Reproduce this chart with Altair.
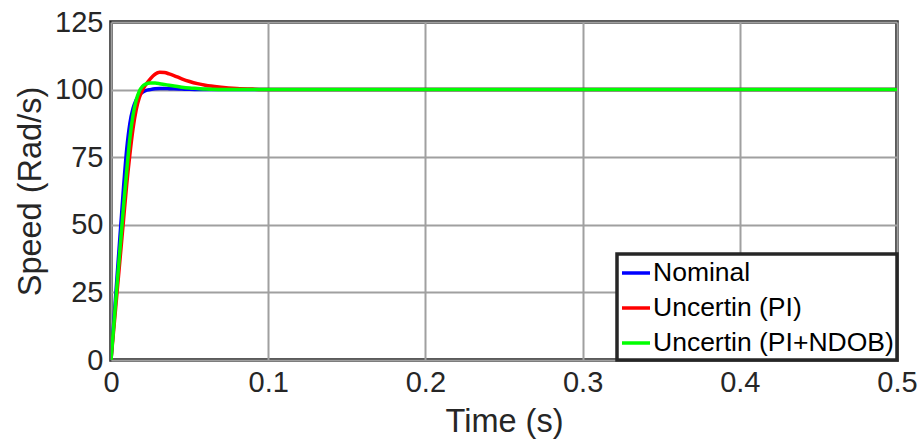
import altair as alt
import pandas as pd

# Time (s)
time = [0.0, 0.002, 0.004, 0.006, 0.008, 0.010, 0.012, 0.014, 0.016, 0.018,
        0.020, 0.022, 0.025, 0.028, 0.031, 0.034, 0.037, 0.040, 0.045, 0.050,
        0.055, 0.060, 0.070, 0.080, 0.090, 0.100, 0.200, 0.300, 0.400, 0.500]

# Speed (Rad/s)
nominal = [0, 16, 32, 48, 64, 78, 87.5, 93, 96.2, 98.0,
           99.0, 99.6, 100.0, 100.3, 100.4, 100.4, 100.35, 100.3, 100.2, 100.1,
           100.05, 100.0, 100.0, 100.0, 100.0, 100.0, 100.0, 100.0, 100.0, 100.0]

pi = [0, 13, 26, 39, 52, 65, 76, 85.5, 92.5, 97.0,
      99.8, 101.7, 104.0, 105.7, 106.4, 106.3, 105.8, 105.2, 104.0, 103.0,
      102.2, 101.6, 100.9, 100.45, 100.2, 100.05, 100.0, 100.0, 100.0, 100.0]

pi_ndob = [0, 14.5, 29, 43, 57, 70, 82, 90.5, 96, 99.4,
           101.2, 102.0, 102.4, 102.4, 102.2, 101.9, 101.6, 101.3, 100.9, 100.6,
           100.4, 100.2, 100.05, 100.0, 100.0, 100.0, 100.0, 100.0, 100.0, 100.0]

names = ["Nominal", "Uncertin (PI)", "Uncertin (PI+NDOB)"]
colors = ["#0000ff", "#ff0000", "#00ff00"]

rows = []
for name, vals in zip(names, [nominal, pi, pi_ndob]):
    for t, v in zip(time, vals):
        rows.append({"t": t, "speed": v, "series": name})
df = pd.DataFrame(rows)

FONT = "Liberation Sans"
TXT = "#262626"

color = alt.Color(
    "series:N",
    scale=alt.Scale(domain=names, range=colors),
    legend=alt.Legend(
        title=None, orient="bottom-right", offset=0,
        fillColor="white", strokeColor=TXT, padding=3,
        symbolType="stroke", symbolSize=784, symbolStrokeWidth=3.5,
        labelFontSize=26.5, labelFont=FONT, labelColor="black",
        labelOffset=1, rowPadding=5, labelLimit=400,
    ),
)

x = alt.X("t:Q", title="Time (s)",
          scale=alt.Scale(domain=[0, 0.5], nice=False),
          axis=alt.Axis(values=[0, 0.1, 0.2, 0.3, 0.4, 0.5], format="~g",
                        labelFlush=False, labelPadding=8, titlePadding=8))
y = alt.Y("speed:Q", title="Speed (Rad/s)",
          scale=alt.Scale(domain=[0, 125], nice=False),
          axis=alt.Axis(values=[0, 25, 50, 75, 100, 125], labelFlush=False,
                        labelPadding=8, titlePadding=7))

layers = []
for name in names:
    layers.append(
        alt.Chart(df).transform_filter(alt.datum.series == name)
        .mark_line(strokeWidth=3.5, interpolate="monotone", clip=True)
        .encode(x=x, y=y, color=color)
    )

chart = alt.layer(*layers).properties(
    width=786, height=338,
    padding={"left": 111, "top": 22, "right": 26, "bottom": 82},
    autosize=alt.AutoSizeParams(type="none"),
).configure_view(
    stroke=TXT, strokeWidth=3.5, fill="white"
).configure_axis(
    grid=True, gridColor="#a0a0a0", gridWidth=2, gridOpacity=1,
    domain=False, ticks=False,
    labelFont=FONT, labelFontSize=29, labelColor=TXT,
    titleFont=FONT, titleFontSize=32.5, titleColor=TXT, titleFontWeight="normal",
).configure_legend(
    strokeWidth=3.5,
)

chart.save("out.html", embed_options={"renderer": "svg", "actions": False})
